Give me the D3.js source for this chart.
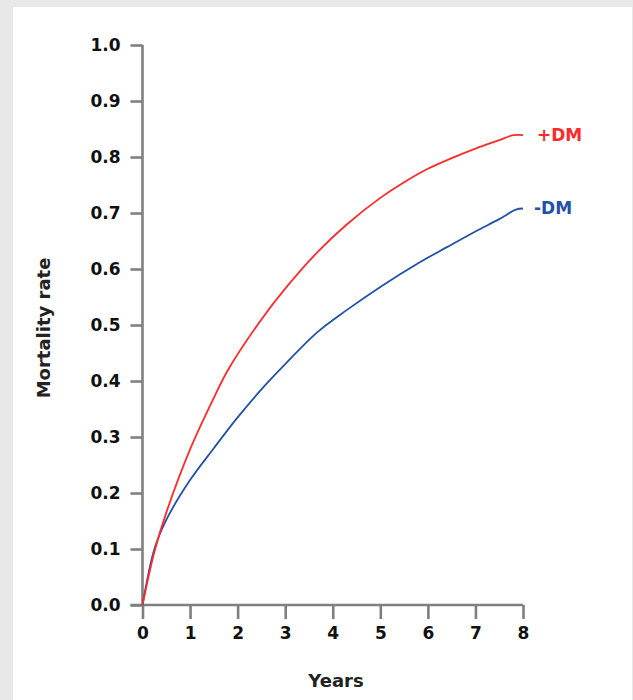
<!DOCTYPE html>
<html><head><meta charset="utf-8">
<script src="https://cdn.jsdelivr.net/npm/d3@7"></script>
<style>
html,body{margin:0;padding:0;background:#e8e8e8;}
svg{display:block;}
text{font-family:"DejaVu Sans",Verdana,sans-serif;font-weight:bold;}
</style></head>
<body>
<script>
// ---- data ----
const yearsDM  = [0, 0.25, 0.5, 1.0, 1.5, 1.8, 2.5, 3.0, 3.7, 4.3, 5.0, 5.5, 6.0, 6.5, 7.0, 7.5, 7.8, 8.0];
const plusDM   = [0, 0.095, 0.165, 0.278, 0.37, 0.42, 0.51, 0.565, 0.632, 0.68, 0.727, 0.755, 0.779, 0.798, 0.815, 0.83, 0.839, 0.839];
const yearsNoDM = [0, 0.25, 0.5, 1.0, 1.5, 2.0, 2.5, 3.0, 3.66, 4.3, 5.0, 5.83, 6.4, 7.0, 7.5, 7.85, 8.0];
const minusDM   = [0, 0.1, 0.152, 0.223, 0.28, 0.335, 0.385, 0.43, 0.486, 0.527, 0.568, 0.612, 0.639, 0.667, 0.689, 0.706, 0.708];
const xTicks = [0,1,2,3,4,5,6,7,8];
const yTicks = [0,0.1,0.2,0.3,0.4,0.5,0.6,0.7,0.8,0.9,1.0];
const seriesNames = ["+DM", "-DM"];
const seriesColors = ["#ff2a2a", "#2152a8"];

const W = 633, H = 700;
const svg = d3.select("body").append("svg").attr("width", W).attr("height", H);
svg.append("rect").attr("x",0).attr("y",0).attr("width",W).attr("height",H).attr("fill","#e8e8e8");
svg.append("rect").attr("x",13).attr("y",7).attr("width",619).attr("height",H-7).attr("fill","#fff");

const x = d3.scaleLinear().domain([0,8]).range([142.5,523]);
const y = d3.scaleLinear().domain([0,1]).range([605,45]);

const axisColor = "#7f7f7f";
const ya = svg.append("g").attr("transform",`translate(${x(0)},0)`)
  .call(d3.axisLeft(y).tickValues(yTicks).tickFormat(d3.format(".1f")).tickSize(12).tickSizeOuter(0).tickPadding(10));
const xa = svg.append("g").attr("transform",`translate(0,${y(0)})`)
  .call(d3.axisBottom(x).tickValues(xTicks).tickFormat(d3.format("d")).tickSize(14).tickSizeOuter(0).tickPadding(8));
[ya,xa].forEach(g=>{
  g.select(".domain").attr("stroke",axisColor).attr("stroke-width",2.6);
  g.selectAll(".tick line").attr("stroke",axisColor).attr("stroke-width",2.6);
  g.selectAll(".tick text").attr("fill","#111").attr("font-size",17)
    .style("font-family",'"DejaVu Sans",Verdana,sans-serif').style("font-weight","bold");
});
xa.select(".domain").attr("d",`M${x(0)-12},0H${x(8)}`);
ya.select(".domain").attr("d",`M0,${y(1)}V${y(0)}`);

const line = d3.line().x(d=>x(d[0])).y(d=>y(d[1])).curve(d3.curveCatmullRom.alpha(0.5));
const s1 = yearsDM.map((v,i)=>[v,plusDM[i]]);
const s2 = yearsNoDM.map((v,i)=>[v,minusDM[i]]);
svg.append("path").datum(s2).attr("d",line).attr("fill","none").attr("stroke",seriesColors[1]).attr("stroke-width",1.8);
svg.append("path").datum(s1).attr("d",line).attr("fill","none").attr("stroke",seriesColors[0]).attr("stroke-width",1.8);

svg.append("text").attr("x",537).attr("y",y(plusDM[plusDM.length-1])+6).attr("fill",seriesColors[0])
  .attr("font-size",17).text(seriesNames[0]);
svg.append("text").attr("x",534).attr("y",y(minusDM[minusDM.length-1])+5).attr("fill",seriesColors[1])
  .attr("font-size",17).text(seriesNames[1]);

svg.append("text").attr("x",336).attr("y",687).attr("text-anchor","middle").attr("fill","#222")
  .attr("font-size",18).text("Years");
svg.append("text").attr("transform",`translate(50,328) rotate(-90)`).attr("text-anchor","middle").attr("fill","#222")
  .attr("font-size",18).text("Mortality rate");
</script>
</body></html>
